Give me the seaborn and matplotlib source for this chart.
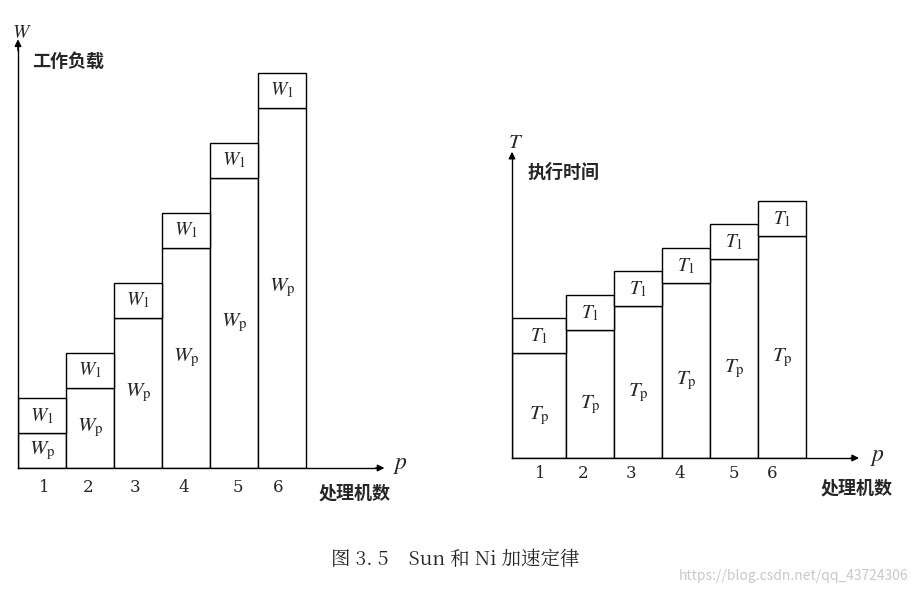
import matplotlib
matplotlib.use("Agg")
import matplotlib.pyplot as plt
import seaborn as sns
import pandas as pd

sns.set_style("white")
plt.rcParams['font.family'] = ['Noto Sans CJK SC', 'DejaVu Sans']
plt.rcParams['mathtext.fontset'] = 'stix'

procs = ["1", "2", "3", "4", "5", "6"]
w_par = [1.0, 2.3, 4.3, 6.3, 8.3, 10.3]
w_ser = [1.0] * 6
t_par = [3.0, 3.66, 4.34, 5.0, 5.69, 6.34]
t_ser = [1.0] * 6
left_tick_px = [44, 88, 135, 184, 238, 278]
right_tick_px = [540, 583, 631, 680, 734, 772]

W, H = 917, 595
fig = plt.figure(figsize=(9.17, 5.95), dpi=100)
serif = {'family': ['DejaVu Serif']}

def mk(x0, x1, ybase, ytop, xmax, ymax):
    ax = fig.add_axes([x0 / W, 1 - ybase / H, (x1 - x0) / W, (ybase - ytop) / H])
    ax.set_xlim(0, xmax); ax.set_ylim(0, ymax)
    for s in ["top", "right"]:
        ax.spines[s].set_visible(False)
    for s in ["left", "bottom"]:
        ax.spines[s].set_color("black"); ax.spines[s].set_linewidth(1)
    ax.set_xticks([]); ax.set_yticks([])
    ax.patch.set_alpha(0)
    ax.annotate("", xy=(1.02, 0), xytext=(0.98, 0), xycoords="axes fraction",
                arrowprops=dict(arrowstyle="-|>", color="black", lw=1), annotation_clip=False)
    ax.annotate("", xy=(0, 1.02), xytext=(0, 0.98), xycoords="axes fraction",
                arrowprops=dict(arrowstyle="-|>", color="black", lw=1), annotation_clip=False)
    return ax

# Left chart
axL = mk(18, 380, 468, 45, (380 - 18) / 48, (468 - 45) / 35)
xl = [i + 0.5 for i in range(6)]
axL.bar(xl, w_par, width=1, color="white", edgecolor="black", lw=1)
axL.bar(xl, w_ser, width=1, bottom=w_par, color="white", edgecolor="black", lw=1)
for x, p, s in zip(xl, w_par, w_ser):
    axL.text(x, p / 2, r"$W_{\mathrm{p}}$", ha="center", va="center", fontsize=15)
    axL.text(x, p + s / 2, r"$W_{\mathrm{1}}$", ha="center", va="center", fontsize=14)
for lab, px in zip(procs, left_tick_px):
    fig.text(px / W, 1 - 487 / H, lab, ha="center", va="center", fontsize=12, fontdict=serif)
fig.text(22 / W, 1 - 32 / H, r"$W$", ha="center", va="center", fontsize=14)
fig.text(32 / W, 1 - 61 / H, "工作负载", ha="left", va="center", fontsize=13, weight="bold")
fig.text(400 / W, 1 - 464 / H, r"$p$", ha="center", va="center", fontsize=17)
fig.text(355 / W, 1 - 493 / H, "处理机数", ha="center", va="center", fontsize=13, weight="bold")

# Right chart
axR = mk(512, 855, 458, 155, (855 - 512) / 48, (458 - 155) / 35)
edges = [0] + [54 / 48 + i for i in range(5)]
wr = [1.125] + [1] * 5
xr = [e + w / 2 for e, w in zip(edges, wr)]
axR.bar(xr, t_par, width=wr, color="white", edgecolor="black", lw=1)
axR.bar(xr, t_ser, width=wr, bottom=t_par, color="white", edgecolor="black", lw=1)
for x, p, s in zip(xr, t_par, t_ser):
    axR.text(x, p / 2 - 0.3, r"$T_{\mathrm{p}}$", ha="center", va="center", fontsize=15)
    axR.text(x, p + s / 2, r"$T_{\mathrm{1}}$", ha="center", va="center", fontsize=14)
for lab, px in zip(procs, right_tick_px):
    fig.text(px / W, 1 - 474 / H, lab, ha="center", va="center", fontsize=12, fontdict=serif)
fig.text(516 / W, 1 - 142 / H, r"$T$", ha="center", va="center", fontsize=15)
fig.text(528 / W, 1 - 172 / H, "执行时间", ha="left", va="center", fontsize=13, weight="bold")
fig.text(877 / W, 1 - 456 / H, r"$p$", ha="center", va="center", fontsize=17)
fig.text(857 / W, 1 - 488 / H, "处理机数", ha="center", va="center", fontsize=13, weight="bold")

fig.text(455 / W, 1 - 560 / H, "图 3. 5    Sun 和 Ni 加速定律", ha="center", va="center",
         fontsize=14, family=['Noto Serif CJK SC', 'Noto Sans CJK SC', 'DejaVu Serif'])
fig.text(908 / W, 1 - 576 / H, "https://blog.csdn.net/qq_43724306", ha="right", va="center",
         fontsize=10, color="#c8c8c8")

fig.savefig("out.png", dpi=100)
